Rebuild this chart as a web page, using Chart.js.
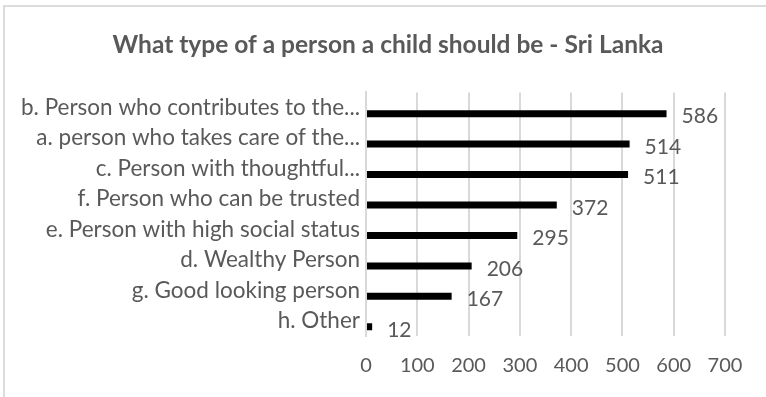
<!DOCTYPE html>
<html>
<head>
<meta charset="utf-8">
<script src="https://cdn.jsdelivr.net/npm/chart.js@4.4.1/dist/chart.umd.min.js"></script>
<style>
  html, body { margin: 0; padding: 0; background: #fff; overflow: hidden; }
  #frame { position: absolute; left: 3px; top: 5px; width: 800px; height: 420px; border: 2px solid #dcdcdc; }
  #wrap { position: absolute; left: 0; top: 0; width: 766px; height: 397px; }
</style>
</head>
<body>
<div id="frame"></div>
<div id="wrap"><canvas id="myChart" width="766" height="397"></canvas></div>
<script>
// categories and counts
const categories = [
    'b. Person who contributes to the...',
    'a. person who takes care of the...',
    'c. Person with thoughtful...',
    'f. Person who can be trusted',
    'e. Person with high social status',
    'd. Wealthy Person',
    'g. Good looking person',
    'h. Other'
]
const counts = [586, 514, 511, 372, 295, 206, 167, 12]
// the source sheet has an empty first series, which shifts the bars down
const emptySeries = []
const xTicks = [0, 100, 200, 300, 400, 500, 600, 700]

const textGrey = '#595959'
const gridGrey = '#d9d9d9'

// value labels to the right of each bar
const valueLabels = {
    id: 'valueLabels',
    afterDatasetsDraw(chart) {
        const ctx = chart.ctx
        const meta = chart.getDatasetMeta(1)
        ctx.save()
        ctx.font = '21px Lato'
        ctx.fillStyle = textGrey
        ctx.textAlign = 'left'
        ctx.textBaseline = 'middle'
        meta.data.forEach((bar, i) => {
            ctx.fillText(counts[i], bar.x + 15, bar.y + 3)
        })
        ctx.restore()
    }
}

let ctx = document.getElementById('myChart').getContext('2d')

let barChart = new Chart(ctx, {
    type: 'bar',
    data: {
        labels: categories,
        datasets: [{
            label: '',
            data: emptySeries,
            backgroundColor: 'rgba(0,0,0,0)'
        }, {
            label: 'Sri Lanka',
            data: counts,
            backgroundColor: '#000000'
        }]
    },
    options: {
        indexAxis: 'y',
        responsive: false,
        animation: false,
        datasets: {
            bar: { categoryPercentage: 0.79, barPercentage: 0.58 }
        },
        layout: { padding: { left: 10, right: 0, top: 0, bottom: 0 } },
        plugins: {
            legend: { display: false },
            tooltip: { enabled: false },
            title: {
                display: true,
                text: 'What type of a person a child should be - Sri Lanka',
                color: textGrey,
                font: { family: 'Lato', size: 24.5, weight: 'bold', lineHeight: 1.2 },
                padding: { top: 30, bottom: 33 }
            }
        },
        scales: {
            x: {
                min: 0,
                max: 700,
                afterBuildTicks: (scale) => {
                    scale.ticks = xTicks.map(v => ({ value: v }))
                },
                afterFit: (scale) => { scale.height = 61 },
                grid: { color: gridGrey, lineWidth: 2, drawTicks: false },
                border: { display: false },
                ticks: {
                    color: textGrey,
                    padding: 18,
                    font: { family: 'Lato', size: 20 }
                }
            },
            y: {
                afterFit: (scale) => { scale.width = 356 },
                grid: { display: false, drawTicks: false },
                border: { display: true, color: gridGrey, width: 2 },
                ticks: {
                    color: textGrey,
                    padding: 6,
                    autoSkip: false,
                    font: { family: 'Lato', size: 22.5 }
                }
            },
            // blank right margin so the plot ends at 700 like the original
            yRight: {
                type: 'category',
                position: 'right',
                afterFit: (scale) => { scale.width = 41 },
                grid: { display: false, drawTicks: false },
                border: { display: false },
                ticks: { display: false }
            }
        }
    },
    plugins: [valueLabels]
});
</script>
</body>
</html>
